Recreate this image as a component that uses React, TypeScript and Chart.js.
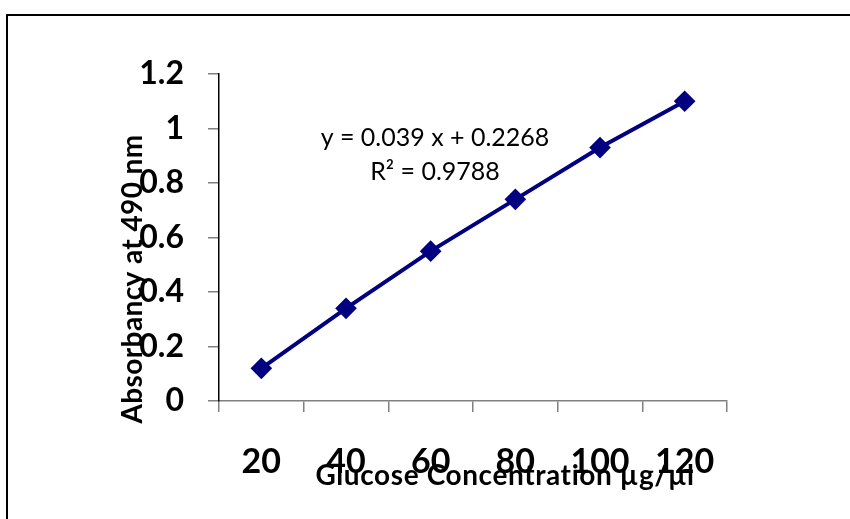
import React, { useEffect, useRef } from "react";
import { Chart, registerables } from "chart.js";

Chart.register(...registerables);

const categories = ["20", "40", "60", "80", "100", "120"];
const absorbance = [0.12, 0.34, 0.55, 0.74, 0.93, 1.1];
const yMin = 0;
const yMax = 1.2;
const yStep = 0.2;
const xTitle = "Glucose Concentration µg/µl";
const yTitle = "Absorbancy at 490 nm";
const equationLines = ["y = 0.039 x + 0.2268", "R² = 0.9788"];

const FONT = "Lato, 'Noto Sans', sans-serif";

const decorPlugin = {
  id: "decor",
  beforeDraw(chart: any) {
    const ctx = chart.ctx;
    ctx.save();
    ctx.fillStyle = "#ffffff";
    ctx.fillRect(0, 0, chart.width, chart.height);
    ctx.strokeStyle = "#000000";
    ctx.lineWidth = 2;
    ctx.strokeRect(7, 15, chart.width + 20, chart.height + 20);
    ctx.restore();
  },
  afterDraw(chart: any) {
    const ctx = chart.ctx;
    const area = chart.chartArea;
    ctx.save();
    ctx.fillStyle = "#000000";
    ctx.font = `bold 28px ${FONT}`;
    ctx.textAlign = "center";
    ctx.textBaseline = "middle";
    try { (ctx as any).letterSpacing = "0.4px"; } catch (e) {}
    ctx.translate(area.left - 86, area.top + 205);
    ctx.rotate(-Math.PI / 2);
    ctx.fillText(yTitle, 0, 0);
    ctx.restore();

    ctx.save();
    ctx.fillStyle = "#000000";
    ctx.font = `bold 28px ${FONT}`;
    ctx.textAlign = "center";
    ctx.textBaseline = "alphabetic";
    try { (ctx as any).letterSpacing = "0.6px"; } catch (e) {}
    ctx.fillText(xTitle, area.left + 286, area.bottom + 84);
    try { (ctx as any).letterSpacing = "0px"; } catch (e) {}

    ctx.textBaseline = "middle";
    ctx.font = `25px ${FONT}`;
    ctx.fillText(equationLines[0], area.left + 216, area.top + 64);
    ctx.fillText(equationLines[1], area.left + 216, area.top + 98);
    ctx.restore();
  },
};

export default function App() {
  const ref = useRef<HTMLCanvasElement | null>(null);
  useEffect(() => {
    if (!ref.current) return;
    const chart = new Chart(ref.current, {
      type: "line",
      data: {
        labels: categories,
        datasets: [
          {
            data: absorbance,
            borderColor: "#000080",
            backgroundColor: "#000080",
            borderWidth: 4,
            pointStyle: "rectRot",
            pointRadius: 8,
            pointBackgroundColor: "#000080",
            pointBorderColor: "#000080",
            tension: 0,
          },
        ],
      },
      options: {
        responsive: false,
        animation: false,
        devicePixelRatio: 1,
        layout: { padding: { left: 0, right: 123, top: 74, bottom: 0 } },
        plugins: { legend: { display: false }, tooltip: { enabled: false } },
        scales: {
          x: {
            type: "category",
            offset: true,
            grid: {
              offset: true,
              drawOnChartArea: false,
              drawTicks: true,
              tickLength: 11,
              color: "#808080",
              lineWidth: 1.5,
            },
            border: { color: "#808080", width: 1.5 },
            ticks: {
              font: { family: FONT, size: 34, weight: "bold" },
              color: "#000000",
              padding: 30,
              maxRotation: 0,
              autoSkip: false,
            },
            afterFit(scale: any) {
              scale.height = 118;
            },
          },
          y: {
            min: yMin,
            max: yMax,
            grid: {
              drawOnChartArea: false,
              drawTicks: true,
              tickLength: 11,
              color: "#808080",
              lineWidth: 1.5,
            },
            border: { color: "#000000", width: 1.5 },
            ticks: {
              stepSize: yStep,
              font: { family: FONT, size: 32, weight: "bold" },
              color: "#000000",
              padding: 24,
              callback: (v: any) => String(Number(Number(v).toFixed(1))),
            },
            afterFit(scale: any) {
              scale.width = 219;
            },
          },
        },
      },
      plugins: [decorPlugin],
    });
    return () => chart.destroy();
  }, []);
  return (
    <div style={{ position: "fixed", left: 0, top: 0, width: 850, height: 519, background: "#fff" }}>
      <canvas ref={ref} width={850} height={519} style={{ display: "block" }} />
    </div>
  );
}
